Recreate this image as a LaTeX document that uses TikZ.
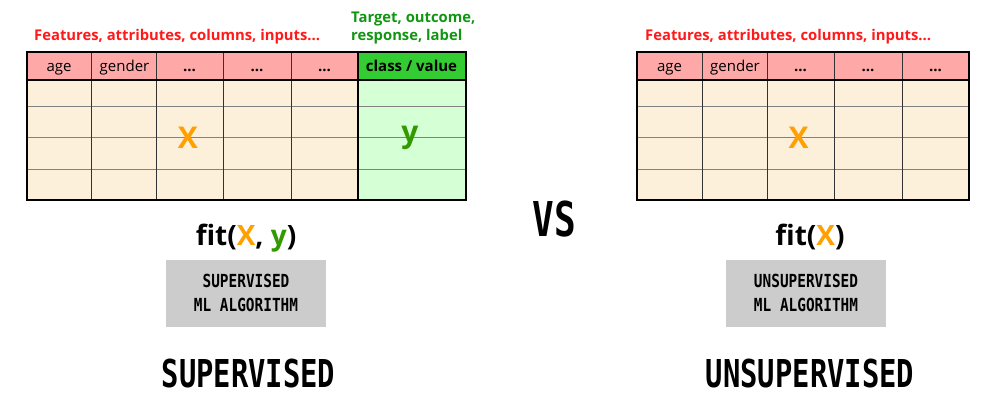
\documentclass[tikz,border=0pt]{standalone}
\usepackage{fontspec}
\setmainfont{Open Sans}
\newfontfamily\boxfont[FakeStretch=0.8]{DejaVu Sans Mono}
\newfontfamily\titlefont[FakeStretch=0.75]{DejaVu Sans Mono}
\definecolor{hdrpink}{RGB}{255,168,168}
\definecolor{hdrgreen}{RGB}{51,204,51}
\definecolor{cream}{RGB}{253,240,218}
\definecolor{lightgreen}{RGB}{213,255,213}
\definecolor{boxgray}{RGB}{204,204,204}
\definecolor{redtxt}{RGB}{255,25,25}
\definecolor{greentxt}{RGB}{17,150,17}
\definecolor{xorange}{RGB}{255,160,0}
\definecolor{ygreen}{RGB}{51,153,0}
\definecolor{gridgray}{RGB}{130,130,130}
\begin{document}
\begin{tikzpicture}[x=1pt,y=-1pt,
  hdrtext/.style={anchor=base,inner sep=0pt,font=\fontsize{15pt}{17pt}\selectfont},
  hdrbold/.style={anchor=base,inner sep=0pt,font=\fontsize{15pt}{17pt}\selectfont\bfseries},
  lbl/.style={anchor=base west,inner sep=0pt,font=\fontsize{14.8pt}{17pt}\selectfont\bfseries},
  bigvar/.style={anchor=base,inner sep=0pt,font=\fontsize{30pt}{32pt}\selectfont\bfseries},
  fittext/.style={anchor=base,inner sep=0pt,font=\fontsize{28pt}{30pt}\selectfont\bfseries},
  algobox/.style={fill=boxgray,minimum width=160pt,minimum height=67pt,inner sep=0pt,align=center,
    font=\fontsize{18pt}{23.3pt}\selectfont\boxfont\bfseries},
  title/.style={anchor=base,inner sep=0pt,font=\fontsize{38.4pt}{40pt}\selectfont\titlefont\bfseries},
  outer/.style={draw=black,line width=1.2pt},
  vline/.style={draw=black!80,line width=1pt},
  hline/.style={draw=gridgray,line width=1pt}]
\useasboundingbox (0,0) rectangle (1000,400);

% ---------- left table ----------
\fill[hdrpink] (27,52) rectangle (358,80);
\fill[hdrgreen] (358,52) rectangle (466,80);
\fill[cream] (27,80) rectangle (358,200);
\fill[lightgreen] (358,80) rectangle (466,200);
\foreach \yy in {106,137,169} \draw[hline] (27,\yy) -- (466,\yy);
\foreach \xx in {91,156,223,291} \draw[vline] (\xx,52) -- (\xx,200);
\draw[outer] (358,52) -- (358,200);
\draw[outer] (27,80) -- (466,80);
\draw[outer] (27,52) rectangle (466,200);

\node[hdrtext] (lage) at (59,71.3) {age};
\node[hdrtext] (lgender) at (124.5,71.3) {gender};
\node[hdrbold] (ld1) at (189.5,71.3) {...};
\node[hdrbold] (ld2) at (257,71.3) {...};
\node[hdrbold] (ld3) at (324.5,71.3) {...};
\node[hdrbold] (lclass) at (411.5,71.3) {class / value};

\node[bigvar,text=xorange] (lX) at (188,148.3) {X};
\node[bigvar,text=ygreen] (ly) at (410,142) {y};

\node[lbl,text=redtxt] (lfeat) at (34,40) {Features, attributes, columns, inputs...};
\node[lbl,text=greentxt] (target1) at (351,22.7) {Target, outcome,};
\node[lbl,text=greentxt] (target2) at (351,40) {response, label};

\node[fittext] (lfit) at (246,245) {fit(\textcolor{xorange}{X}, \textcolor{ygreen}{y})};
\node[algobox] (lalgo) at (246,293) {SUPERVISED\\ML ALGORITHM};
\node[title] (ltitle) at (248.5,387.5) {SUPERVISED};

% ---------- VS ----------
\node[anchor=base,inner sep=0pt,font=\fontsize{48pt}{50pt}\selectfont\titlefont\bfseries] (vs) at (554,236.5) {VS};

% ---------- right table ----------
\fill[hdrpink] (637,52) rectangle (969,80);
\fill[cream] (637,80) rectangle (969,200);
\foreach \yy in {106,137,169} \draw[hline] (637,\yy) -- (969,\yy);
\foreach \xx in {702,767,834,902} \draw[vline] (\xx,52) -- (\xx,200);
\draw[outer] (637,80) -- (969,80);
\draw[outer] (637,52) rectangle (969,200);

\node[hdrtext] (rage) at (669.5,71.3) {age};
\node[hdrtext] (rgender) at (735,71.3) {gender};
\node[hdrbold] (rd1) at (800.5,71.3) {...};
\node[hdrbold] (rd2) at (868,71.3) {...};
\node[hdrbold] (rd3) at (935.5,71.3) {...};

\node[bigvar,text=xorange] (rX) at (798.5,148.3) {X};

\node[lbl,text=redtxt] (rfeat) at (645,40.5) {Features, attributes, columns, inputs...};

\node[fittext] (rfit) at (810,245) {fit(\textcolor{xorange}{X})};
\node[algobox] (ralgo) at (806,293) {UNSUPERVISED\\ML ALGORITHM};
\node[title] (rtitle) at (810,387) {UNSUPERVISED};
\end{tikzpicture}
\end{document}
